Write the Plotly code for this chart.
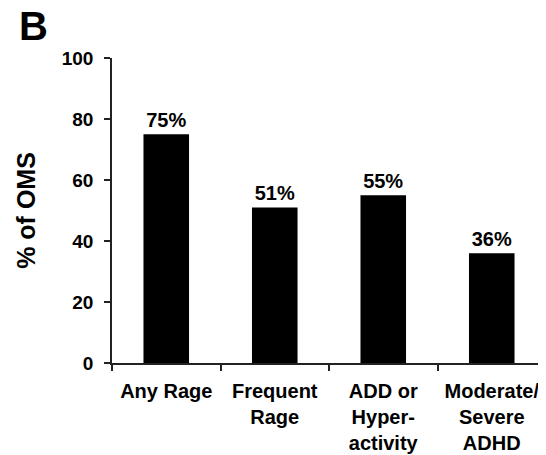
import plotly.graph_objects as go

categories = ["Any Rage", "Frequent<br>Rage", "ADD or<br>Hyper-<br>activity", "Moderate/<br>Severe<br>ADHD"]
values = [75, 51, 55, 36]
value_labels = ["75%", "51%", "55%", "36%"]
y_ticks = [0, 20, 40, 60, 80, 100]

FONT = "Liberation Sans, Arial, sans-serif"

fig = go.Figure(go.Bar(
    x=categories, y=values,
    text=value_labels, textposition="outside",
    textfont=dict(family=FONT, size=20, color="black", weight="bold"),
    marker=dict(color="black", line=dict(width=0)),
    width=0.42, cliponaxis=False,
))

# page body has an 8px default margin, so the figure is drawn 8px smaller
fig.update_layout(
    width=538, height=447,
    margin=dict(l=104, r=0, t=50, b=92),
    paper_bgcolor="white", plot_bgcolor="white",
    showlegend=False,
    font=dict(family=FONT, color="black"),
    annotations=[dict(text="<b>B</b>", xref="paper", yref="paper", x=-0.181, y=1.105,
                      xanchor="center", yanchor="middle", showarrow=False,
                      font=dict(family=FONT, size=40, color="black"))],
)
fig.update_xaxes(
    type="category", range=[-0.5, 3.5], automargin=False,
    showline=True, linecolor="#222", linewidth=1.5,
    ticks="outside", tickson="boundaries", ticklen=6, tickcolor="#222", tickwidth=1.5,
    ticklabelstandoff=9,
    tickfont=dict(family=FONT, size=20, color="black", weight="bold"),
    showgrid=False, zeroline=False,
)
fig.update_yaxes(
    range=[0, 100], tickvals=y_ticks, automargin=False,
    showline=True, linecolor="#222", linewidth=1.5,
    ticks="outside", ticklen=6, tickcolor="#222", tickwidth=1.5,
    ticklabelstandoff=7,
    tickfont=dict(family=FONT, size=19, color="black", weight="bold"),
    title=dict(text="% of OMS", font=dict(family=FONT, size=25, color="black", weight="bold"), standoff=19),
    showgrid=False, zeroline=False,
)

fig.write_html("out.html")
